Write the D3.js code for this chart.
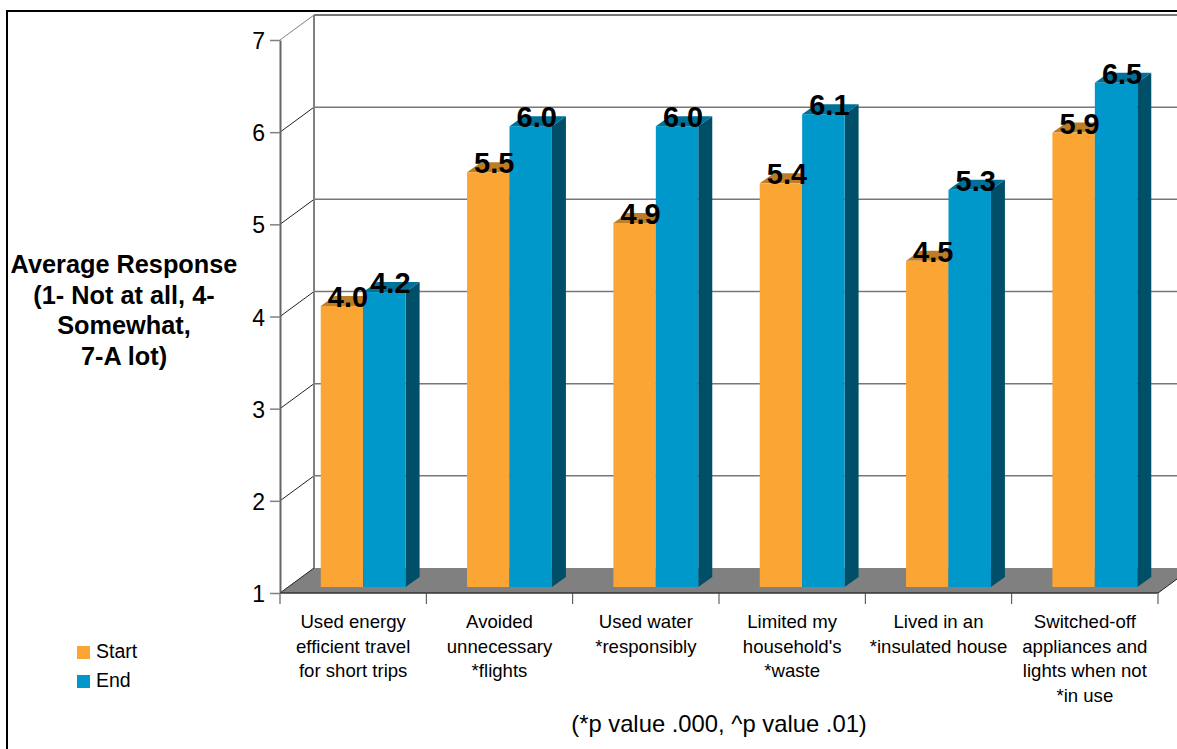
<!DOCTYPE html>
<html>
<head>
<meta charset="utf-8">
<script src="https://cdnjs.cloudflare.com/ajax/libs/d3/7.8.5/d3.min.js"></script>
<style>
  html, body { margin: 0; padding: 0; background: #fff; overflow: hidden; }
  text { font-family: "Liberation Sans", Arial, sans-serif; fill: #000; }
</style>
</head>
<body>
<div id="chart"></div>
<script>
let categories = [
  ["Used energy", "efficient travel", "for short trips"],
  ["Avoided", "unnecessary", "*flights"],
  ["Used water", "*responsibly"],
  ["Limited my", "household's", "*waste"],
  ["Lived in an", "*insulated house"],
  ["Switched-off", "appliances and", "lights when not", "*in use"]
];
let seriesNames = ["Start", "End"];
let startValues = [4.05, 5.5, 4.95, 5.38, 4.54, 5.93];
let endValues = [4.2, 6.0, 6.0, 6.13, 5.31, 6.47];
let startLabels = ["4.0", "5.5", "4.9", "5.4", "4.5", "5.9"];
let endLabels = ["4.2", "6.0", "6.0", "6.1", "5.3", "6.5"];
let yTicks = [1, 2, 3, 4, 5, 6, 7];
let yTitle = ["Average Response", "(1- Not at all, 4-", "Somewhat,", "7-A lot)"];
let footnote = "(*p value .000, ^p value .01)";

let width = 1177, height = 749;
let depthX = 34, depthY = 25;       // offset of the back wall
let barDepthX = 14, barDepthY = 10; // depth of one bar
let barShiftX = 10, barShiftY = 6;  // bars stand a bit inside the floor

let front = {"Start": "#fba634", "End": "#0097cb"};
let top3d = {"Start": "#bc7d27", "End": "#007198"};
let side = "#004f68";

let svg = d3.select("#chart").append("svg").attr("width", width).attr("height", height);

let y = d3.scaleLinear().domain([1, 7]).range([593, 40]);
let x = d3.scaleBand().domain(d3.range(categories.length)).range([280, 1158]).paddingInner(0).paddingOuter(0);
let inner = d3.scaleBand().domain(seriesNames).range([x.bandwidth() * 0.21, x.bandwidth() * 0.79]);

// outer frame
svg.append("rect").attr("x", 7).attr("y", 11).attr("width", width + 20).attr("height", height + 20)
  .attr("fill", "#fff").attr("stroke", "#000").attr("stroke-width", 2);

// back wall and floor
let x0 = x.range()[0], x1 = x.range()[1];
svg.append("polygon")
  .attr("points", [[x0, y(1)], [x0 + depthX, y(1) - depthY], [x1 + depthX, y(1) - depthY], [x1, y(1)]].join(" "))
  .attr("fill", "#808080");

svg.append("g").selectAll("line").data(yTicks.slice(1)).enter().append("line")
  .attr("x1", x0 + depthX).attr("x2", x1 + depthX)
  .attr("y1", d => y(d) - depthY).attr("y2", d => y(d) - depthY)
  .attr("stroke", "#777").attr("stroke-width", d => d == 7 ? 2 : 1.5);

svg.append("g").selectAll("line").data(yTicks).enter().append("line")
  .attr("x1", x0).attr("x2", x0 + depthX)
  .attr("y1", d => y(d)).attr("y2", d => y(d) - depthY)
  .attr("stroke", d => d == 7 ? "#808080" : "#222").attr("stroke-width", 1);

svg.append("line").attr("x1", x0 + depthX).attr("x2", x0 + depthX)
  .attr("y1", y(7) - depthY).attr("y2", y(1) - depthY)
  .attr("stroke", "#808080").attr("stroke-width", 2);

// right edge of the floor
svg.append("line").attr("x1", x1).attr("x2", x1 + depthX).attr("y1", y(1)).attr("y2", y(1) - depthY)
  .attr("stroke", "#222").attr("stroke-width", 1);

// y axis
let yAxis = svg.append("g").attr("transform", `translate(${x0},0)`)
  .call(d3.axisLeft(y).tickValues(yTicks).tickSize(10).tickSizeOuter(0).tickPadding(5).tickFormat(d3.format("d")));
yAxis.select(".domain").attr("stroke", "#666").attr("stroke-width", 2);
yAxis.selectAll(".tick line").attr("stroke", "#808080").attr("stroke-width", 1.5);
yAxis.selectAll("text").attr("font-size", 23).attr("dy", "0.37em")
  .style("font-family", '"Liberation Sans", Arial, sans-serif');

// x axis line and ticks at the band edges
svg.append("line").attr("x1", x0).attr("x2", x1).attr("y1", y(1)).attr("y2", y(1))
  .attr("stroke", "#333").attr("stroke-width", 1.5);
svg.append("g").selectAll("line").data(d3.range(categories.length + 1)).enter().append("line")
  .attr("x1", d => x0 + d * x.step()).attr("x2", d => x0 + d * x.step())
  .attr("y1", y(1)).attr("y2", y(1) + 11)
  .attr("stroke", d => d % 6 == 0 ? "#808080" : "#444").attr("stroke-width", d => d % 6 == 0 ? 1.5 : 1);

// category labels
let catLabels = svg.append("g").selectAll("text").data(categories).enter().append("text")
  .attr("text-anchor", "middle").attr("font-size", 18.6);
catLabels.selectAll("tspan").data((d, i) => d.map(t => ({t: t, i: i}))).enter().append("tspan")
  .attr("x", d => x(d.i) + x.bandwidth() / 2)
  .attr("y", (d, j) => 628 + j * 24.7)
  .text(d => d.t);

// bars
let barY = v => y(v) - barShiftY;
function barGroup(values, name) {
  let g = svg.append("g");
  let bx = i => x(i) + inner(name) + barShiftX;
  let w = inner.bandwidth();
  g.selectAll(".side").data(values).enter().append("polygon")
    .attr("fill", side)
    .attr("points", (d, i) => [[bx(i) + w, barY(d)], [bx(i) + w + barDepthX, barY(d) - barDepthY],
      [bx(i) + w + barDepthX, barY(1) - barDepthY], [bx(i) + w, barY(1)]].join(" "));
  g.selectAll(".top").data(values).enter().append("polygon")
    .attr("fill", top3d[name])
    .attr("points", (d, i) => [[bx(i), barY(d)], [bx(i) + barDepthX, barY(d) - barDepthY],
      [bx(i) + w + barDepthX, barY(d) - barDepthY], [bx(i) + w, barY(d)]].join(" "));
  g.selectAll(".front").data(values).enter().append("rect")
    .attr("fill", front[name])
    .attr("x", (d, i) => bx(i)).attr("width", w)
    .attr("y", d => barY(d)).attr("height", d => barY(1) - barY(d));
}
barGroup(startValues, "Start");
barGroup(endValues, "End");

// value labels on top of everything
function valueLabels(values, name, labels) {
  svg.append("g").selectAll("text").data(values).enter().append("text")
    .attr("text-anchor", "middle").attr("font-size", 29).attr("font-weight", "bold")
    .attr("x", (d, i) => x(i) + inner(name) + barShiftX + inner.bandwidth() / 2 + 6)
    .attr("y", d => barY(d) + 1)
    .text((d, i) => labels[i]);
}
valueLabels(startValues, "Start", startLabels);
valueLabels(endValues, "End", endLabels);

// y title
svg.append("g").selectAll("text").data(yTitle).enter().append("text")
  .attr("text-anchor", "middle").attr("font-weight", "bold").attr("font-size", 25.3)
  .attr("x", 124).attr("y", (d, i) => 273 + i * 30.7)
  .text(d => d);

// legend
let legend = svg.append("g").selectAll("g").data(seriesNames).enter().append("g")
  .attr("transform", (d, i) => `translate(77,${646 + i * 29})`);
legend.append("rect").attr("width", 13).attr("height", 13).attr("fill", d => front[d]);
legend.append("text").attr("x", 19).attr("y", 12).attr("font-size", 19.5).text(d => d);

// footnote
svg.append("text").attr("text-anchor", "middle").attr("x", 719).attr("y", 732)
  .attr("font-size", 23.8).text(footnote);
</script>
</body>
</html>
